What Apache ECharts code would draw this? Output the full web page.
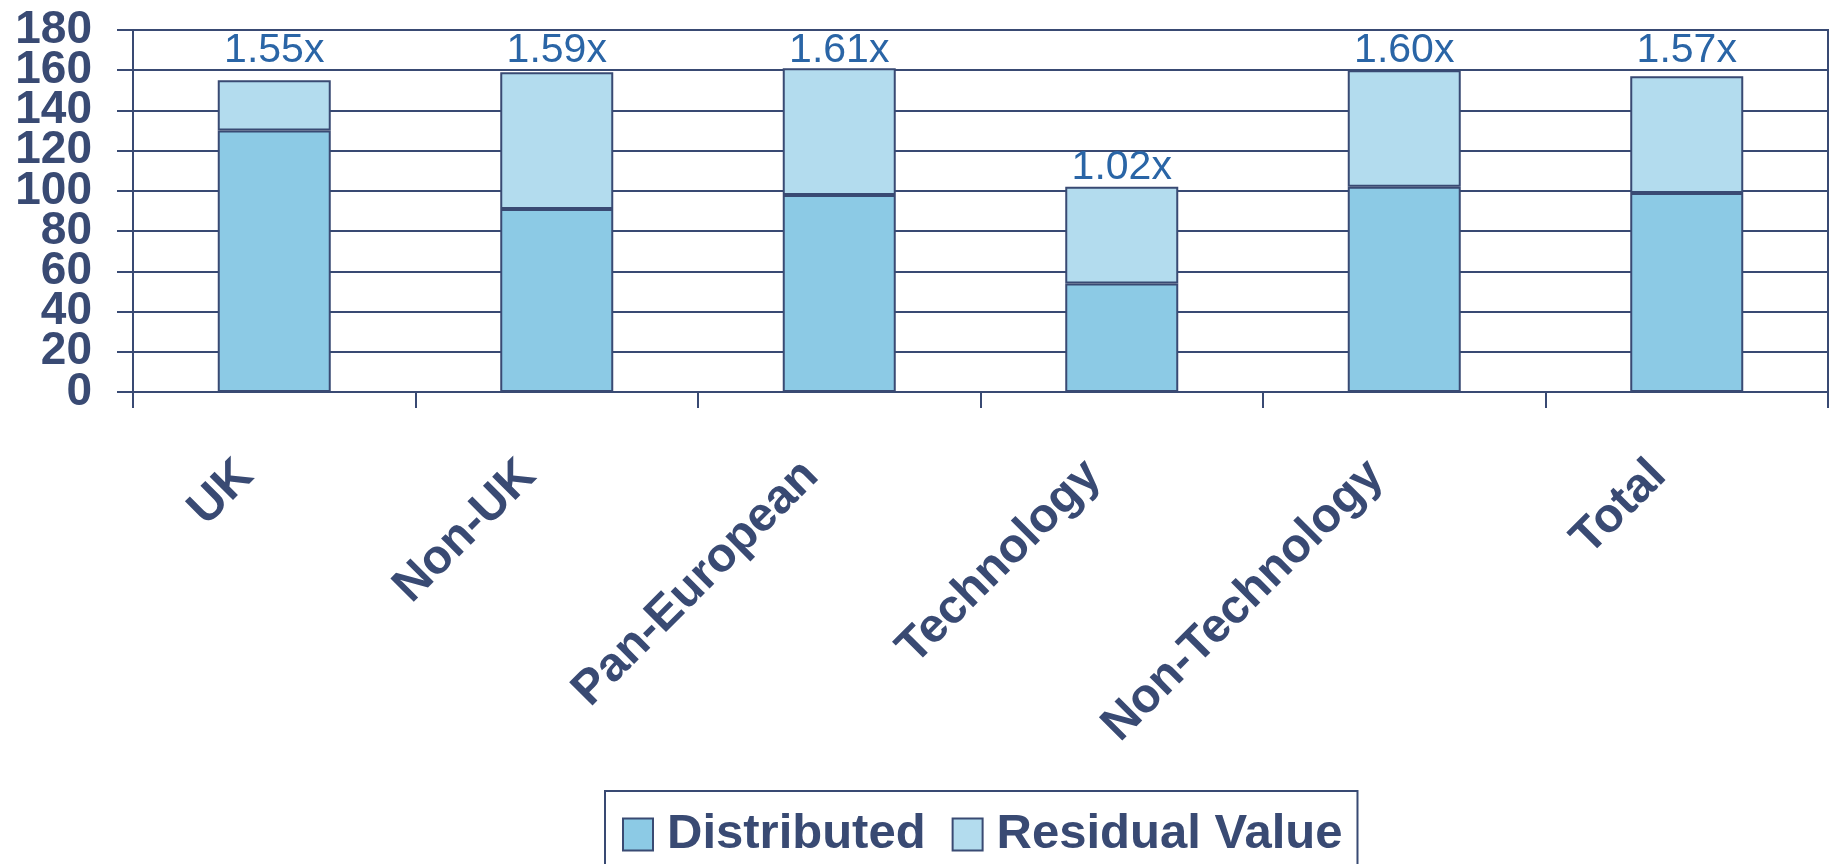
<!DOCTYPE html>
<html lang="en">
<head>
    <meta charset="UTF-8">
    <title>Distributed vs Residual Value</title>
    <style>
        html, body {margin: 0; padding: 0; background: #fff;}
        #chart-box {width: 1833px; height: 864px;}
    </style>
</head>
<body>
<section id="chart-box"></section>
<script src="https://cdn.jsdelivr.net/npm/echarts@6/dist/echarts.min.js"></script>
<script type="text/javascript">

    var categories = ['UK', 'Non-UK', 'Pan-European', 'Technology', 'Non-Technology', 'Total'];
    var distributed = [130, 91, 98, 54, 102, 99];
    var residual = [25, 68, 63, 48, 58, 58];
    var multiples = [1.55, 1.59, 1.61, 1.02, 1.60, 1.57];
    var yTicks = [0, 20, 40, 60, 80, 100, 120, 140, 160, 180];

    var navy = '#394a73';
    var font = '"Liberation Sans", Arial, sans-serif';
    var labelTop = 30;

    var myChart = echarts.init(document.getElementById('chart-box'));

    // the tick labels are packed tighter than their font height, so they are
    // split over two stacked axes to stop echarts hiding every other one
    function valueAxis(odd) {
        var values = yTicks.filter(function (v, i) {
            return i % 2 === (odd ? 1 : 0);
        });
        return {
            type: 'value',
            position: 'left',
            min: yTicks[0], max: yTicks[yTicks.length - 1], interval: yTicks[1] - yTicks[0],
            axisLine: {show: !odd, lineStyle: {color: navy, width: 2}},
            axisTick: {show: !odd, length: 16, lineStyle: {color: navy, width: 2}},
            splitLine: {show: !odd, lineStyle: {color: navy, width: 2}},
            axisLabel: {
                margin: 41, color: navy, fontSize: 46, fontWeight: 'bold', fontFamily: font,
                customValues: values, showMinLabel: true, showMaxLabel: true
            }
        };
    }

    var option = {
        animation: false,
        grid: {
            left: 133, right: 5, top: 30, bottom: 472,
            show: true, borderColor: navy, borderWidth: 2, backgroundColor: 'transparent'
        },
        legend: {
            data: ['Distributed', 'Residual Value'],
            left: 605, top: 791,
            padding: [19, 15, 40, 17],
            borderColor: navy, borderWidth: 2,
            icon: 'rect', itemWidth: 30, itemHeight: 32, itemGap: 26,
            itemStyle: {borderColor: navy, borderWidth: 2},
            textStyle: {color: navy, fontSize: 49, fontWeight: 'bold', fontFamily: font, padding: [0, 0, 0, 9]}
        },
        xAxis: {
            type: 'category',
            data: categories,
            axisLine: {lineStyle: {color: navy, width: 2}},
            axisTick: {show: true, length: 16, lineStyle: {color: navy, width: 2}},
            axisLabel: {
                rotate: 45, margin: 48, interval: 0,
                color: navy, fontSize: 48, fontWeight: 'bold', fontFamily: font,
                padding: [0, 40, 0, 0]
            }
        },
        yAxis: [valueAxis(false), valueAxis(true)],
        series: [{
            name: 'Distributed',
            type: 'bar',
            stack: 'total',
            barWidth: '40%',
            data: distributed,
            itemStyle: {color: '#8ccae5', borderColor: navy, borderWidth: 2}
        }, {
            name: 'Residual Value',
            type: 'bar',
            stack: 'total',
            data: residual,
            itemStyle: {color: '#b3dcee', borderColor: navy, borderWidth: 2},
            label: {
                show: true, position: 'top', distance: -1,
                color: '#2a65a6', fontSize: 41, fontFamily: font,
                formatter: function (p) {
                    return multiples[p.dataIndex].toFixed(2) + 'x';
                }
            },
            // labels of the tall bars sit on one line just under the top border
            labelLayout: function (p) {
                var r = p.labelRect;
                if (r.y < 60) {
                    return {x: r.x + r.width / 2, y: labelTop, align: 'center', verticalAlign: 'top'};
                }
                return {};
            }
        }]
    };

    myChart.setOption(option);
</script>
</body>
</html>
